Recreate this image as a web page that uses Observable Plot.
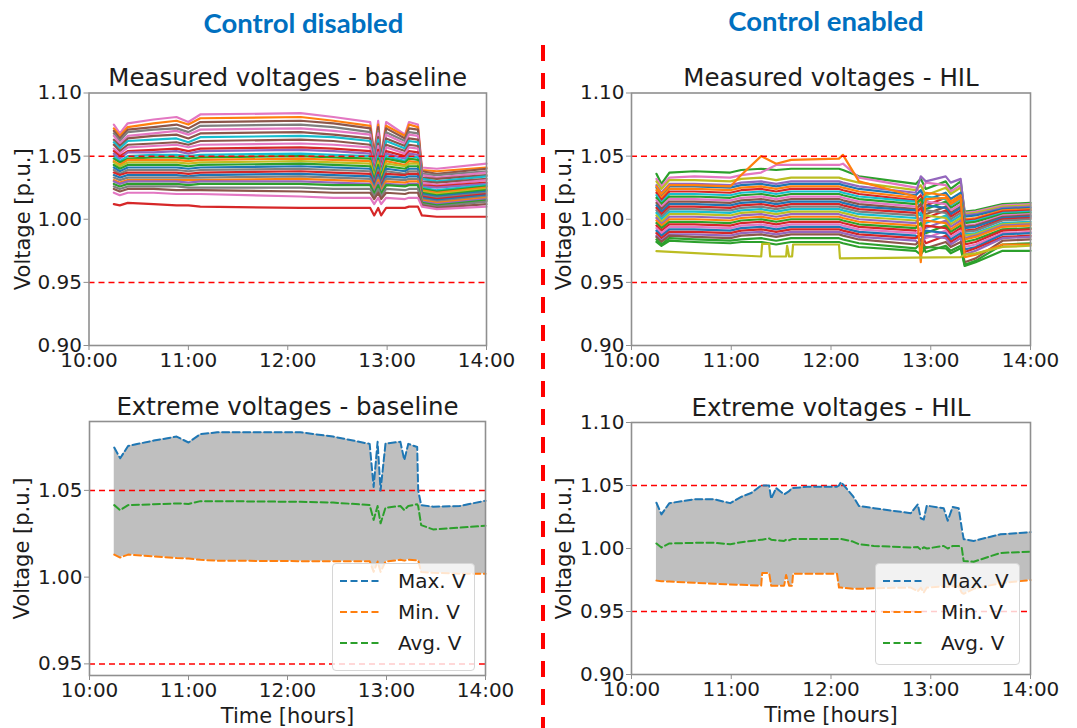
<!DOCTYPE html>
<html>
<head>
<meta charset="utf-8">
<script src="https://cdn.jsdelivr.net/npm/d3@7"></script>
<script src="https://cdn.jsdelivr.net/npm/@observablehq/plot@0.6"></script>
<style>
  html, body { margin: 0; padding: 0; background: #fff; }
  #root { position: relative; width: 1077px; height: 728px; overflow: hidden; font-family: "DejaVu Sans", sans-serif; }
  .panel { position: absolute; }
  .panel svg { display: block; }
  #overlay { position: absolute; left: 0; top: 0; pointer-events: none; }
  .legend { position: absolute; background: rgba(255,255,255,0.8); border: 1px solid #d6d6d6; border-radius: 4px; box-sizing: border-box; }
</style>
</head>
<body>
<div id="root">
  <div class="panel" id="p1" style="left:0;top:50px"></div>
  <div class="panel" id="p2" style="left:540px;top:50px"></div>
  <div class="panel" id="p3" style="left:0;top:380px"></div>
  <div class="panel" id="p4" style="left:540px;top:380px"></div>
</div>
<script>
// ---------- text ----------
const headerLeft = "Control disabled";
const headerRight = "Control enabled";
const titles = ["Measured voltages - baseline", "Measured voltages - HIL", "Extreme voltages - baseline", "Extreme voltages - HIL"];
const yLabel = "Voltage [p.u.]";
const xLabel = "Time [hours]";
const xTicks = [10, 11, 12, 13, 14];
const yTicksWide = [0.90, 0.95, 1.00, 1.05, 1.10];
const yTicksExtBase = [0.95, 1.00, 1.05];
const limits = [0.95, 1.05];
const legendLabels = ["Max. V", "Min. V", "Avg. V"];

// matplotlib tab10 cycle
const tab10 = ["#1f77b4", "#ff7f0e", "#2ca02c", "#d62728", "#9467bd", "#8c564b", "#e377c2", "#7f7f7f", "#bcbd22", "#17becf"];

// ---------- measured voltages, baseline (hours, p.u.) ----------
const baseTimes = [10.25, 10.31, 10.39, 10.65, 10.88, 11.0, 11.12, 12.13, 12.46, 12.83, 12.87, 12.91, 12.94, 12.99, 13.18, 13.22, 13.31, 13.35, 13.5, 14.0];
const baseSeries = [
  [1.075, 1.068, 1.076, 1.079, 1.081, 1.077, 1.083, 1.084, 1.081, 1.077, 1.052, 1.078, 1.050, 1.077, 1.067, 1.077, 1.075, 1.041, 1.040, 1.044],
  [1.072, 1.066, 1.073, 1.076, 1.078, 1.075, 1.080, 1.081, 1.078, 1.074, 1.051, 1.075, 1.049, 1.074, 1.066, 1.075, 1.073, 1.039, 1.038, 1.041],
  [1.070, 1.064, 1.071, 1.073, 1.075, 1.072, 1.077, 1.078, 1.076, 1.072, 1.050, 1.073, 1.048, 1.072, 1.064, 1.072, 1.071, 1.038, 1.036, 1.040],
  [1.068, 1.062, 1.069, 1.071, 1.072, 1.069, 1.074, 1.075, 1.073, 1.069, 1.048, 1.070, 1.046, 1.069, 1.062, 1.069, 1.068, 1.036, 1.035, 1.038],
  [1.066, 1.060, 1.066, 1.068, 1.070, 1.067, 1.071, 1.072, 1.070, 1.067, 1.047, 1.068, 1.045, 1.067, 1.060, 1.067, 1.066, 1.035, 1.033, 1.037],
  [1.063, 1.058, 1.064, 1.066, 1.067, 1.064, 1.068, 1.069, 1.067, 1.064, 1.045, 1.065, 1.043, 1.064, 1.058, 1.064, 1.063, 1.033, 1.032, 1.035],
  [1.061, 1.056, 1.062, 1.063, 1.064, 1.061, 1.065, 1.066, 1.065, 1.062, 1.043, 1.063, 1.042, 1.062, 1.056, 1.062, 1.061, 1.032, 1.030, 1.034],
  [1.059, 1.054, 1.059, 1.060, 1.061, 1.059, 1.062, 1.063, 1.062, 1.059, 1.041, 1.060, 1.040, 1.059, 1.054, 1.059, 1.058, 1.030, 1.029, 1.032],
  [1.056, 1.052, 1.057, 1.058, 1.059, 1.057, 1.059, 1.060, 1.059, 1.057, 1.040, 1.058, 1.038, 1.057, 1.052, 1.057, 1.056, 1.029, 1.027, 1.031],
  [1.054, 1.050, 1.054, 1.055, 1.056, 1.054, 1.056, 1.057, 1.056, 1.054, 1.038, 1.055, 1.037, 1.054, 1.050, 1.054, 1.053, 1.027, 1.026, 1.029],
  [1.052, 1.048, 1.053, 1.053, 1.054, 1.052, 1.054, 1.055, 1.054, 1.052, 1.037, 1.053, 1.036, 1.052, 1.048, 1.052, 1.051, 1.026, 1.025, 1.028],
  [1.050, 1.046, 1.050, 1.051, 1.051, 1.050, 1.051, 1.052, 1.051, 1.050, 1.035, 1.050, 1.034, 1.050, 1.046, 1.050, 1.049, 1.025, 1.023, 1.027],
  [1.048, 1.045, 1.048, 1.049, 1.049, 1.048, 1.049, 1.050, 1.049, 1.048, 1.034, 1.048, 1.033, 1.048, 1.045, 1.048, 1.047, 1.024, 1.022, 1.026],
  [1.046, 1.043, 1.047, 1.047, 1.047, 1.046, 1.047, 1.048, 1.047, 1.046, 1.033, 1.046, 1.032, 1.046, 1.043, 1.046, 1.045, 1.023, 1.021, 1.025],
  [1.045, 1.042, 1.045, 1.045, 1.045, 1.044, 1.045, 1.046, 1.045, 1.044, 1.032, 1.045, 1.031, 1.044, 1.042, 1.044, 1.044, 1.022, 1.020, 1.024],
  [1.043, 1.040, 1.043, 1.043, 1.043, 1.042, 1.043, 1.044, 1.043, 1.042, 1.031, 1.043, 1.030, 1.042, 1.040, 1.042, 1.042, 1.021, 1.019, 1.023],
  [1.041, 1.038, 1.041, 1.041, 1.041, 1.040, 1.041, 1.042, 1.041, 1.040, 1.029, 1.041, 1.028, 1.040, 1.038, 1.040, 1.040, 1.020, 1.018, 1.022],
  [1.039, 1.036, 1.039, 1.039, 1.039, 1.038, 1.039, 1.040, 1.039, 1.038, 1.028, 1.039, 1.027, 1.038, 1.036, 1.038, 1.038, 1.019, 1.017, 1.021],
  [1.037, 1.035, 1.037, 1.037, 1.037, 1.036, 1.037, 1.038, 1.037, 1.036, 1.027, 1.037, 1.026, 1.036, 1.035, 1.036, 1.036, 1.018, 1.016, 1.020],
  [1.035, 1.033, 1.035, 1.035, 1.035, 1.034, 1.035, 1.036, 1.035, 1.034, 1.026, 1.035, 1.025, 1.034, 1.033, 1.034, 1.034, 1.017, 1.015, 1.019],
  [1.033, 1.031, 1.033, 1.033, 1.033, 1.033, 1.033, 1.034, 1.033, 1.032, 1.024, 1.033, 1.024, 1.032, 1.031, 1.032, 1.032, 1.016, 1.014, 1.018],
  [1.031, 1.029, 1.031, 1.031, 1.031, 1.031, 1.031, 1.032, 1.031, 1.030, 1.023, 1.031, 1.022, 1.030, 1.029, 1.030, 1.030, 1.015, 1.013, 1.017],
  [1.030, 1.028, 1.030, 1.030, 1.030, 1.029, 1.030, 1.030, 1.029, 1.028, 1.022, 1.029, 1.021, 1.028, 1.027, 1.028, 1.028, 1.014, 1.012, 1.016],
  [1.028, 1.026, 1.028, 1.028, 1.028, 1.027, 1.028, 1.028, 1.027, 1.027, 1.020, 1.027, 1.020, 1.027, 1.026, 1.027, 1.027, 1.013, 1.011, 1.015],
  [1.026, 1.024, 1.026, 1.026, 1.026, 1.025, 1.025, 1.025, 1.024, 1.024, 1.018, 1.024, 1.018, 1.024, 1.023, 1.024, 1.024, 1.012, 1.010, 1.014],
  [1.024, 1.022, 1.024, 1.024, 1.023, 1.023, 1.023, 1.022, 1.021, 1.021, 1.016, 1.021, 1.016, 1.021, 1.020, 1.021, 1.021, 1.011, 1.009, 1.012],
  [1.021, 1.019, 1.021, 1.021, 1.020, 1.020, 1.020, 1.018, 1.017, 1.017, 1.012, 1.017, 1.012, 1.017, 1.016, 1.017, 1.017, 1.010, 1.008, 1.010],
  [1.012, 1.011, 1.013, 1.012, 1.011, 1.011, 1.010, 1.009, 1.009, 1.009, 1.003, 1.009, 1.003, 1.009, 1.009, 1.010, 1.010, 1.003, 1.002, 1.002]
];
const baseColorIdx = [6, 1, 5, 7, 6, 5, 9, 5, 6, 3, 4, 9, 2, 1, 8, 2, 0, 7, 3, 0, 7, 1, 4, 2, 7, 5, 6, 3];

// ---------- measured voltages, HIL ----------
const hilTimes = [10.25, 10.30, 10.38, 10.63, 10.99, 11.10, 11.30, 11.45, 11.60, 12.08, 12.12, 12.28, 12.85, 12.90, 12.95, 13.15, 13.20, 13.30, 13.34, 13.45, 13.72, 14.0];
const hilSeries = [
  [1.036, 1.028, 1.037, 1.038, 1.037, 1.039, 1.040, 1.039, 1.040, 1.040, 1.039, 1.034, 1.028, 1.032, 1.024, 1.030, 1.024, 1.030, 1.006, 1.007, 1.012, 1.013],
  [1.032, 1.026, 1.033, 1.034, 1.033, 1.035, 1.037, 1.043, 1.043, 1.043, 1.044, 1.033, 1.025, 1.021, 1.029, 1.027, 1.022, 1.027, 1.005, 1.006, 1.011, 1.012],
  [1.030, 1.024, 1.031, 1.031, 1.030, 1.032, 1.033, 1.031, 1.033, 1.033, 1.032, 1.029, 1.023, 1.027, 1.019, 1.025, 1.020, 1.025, 1.004, 1.005, 1.010, 1.011],
  [1.027, 1.021, 1.028, 1.028, 1.027, 1.029, 1.030, 1.028, 1.030, 1.030, 1.029, 1.026, 1.021, 1.034, 1.030, 1.034, 1.029, 1.032, 1.003, 1.004, 1.009, 1.010],
  [1.025, 1.019, 1.026, 1.026, 1.025, 1.027, 1.028, 1.026, 1.028, 1.028, 1.027, 1.024, 1.019, 1.023, 1.015, 1.021, 1.016, 1.021, 1.002, 1.003, 1.008, 1.009],
  [1.023, 1.017, 1.024, 1.024, 1.023, 1.025, 1.026, 1.024, 1.026, 1.026, 1.025, 1.022, 1.017, 1.013, 1.021, 1.019, 1.014, 1.019, 1.000, 1.001, 1.007, 1.008],
  [1.021, 1.015, 1.022, 1.022, 1.021, 1.023, 1.024, 1.022, 1.024, 1.024, 1.023, 1.020, 1.015, 1.019, 1.011, 1.017, 1.012, 1.017, 0.999, 1.000, 1.006, 1.007],
  [1.019, 1.013, 1.020, 1.020, 1.019, 1.021, 1.022, 1.020, 1.022, 1.022, 1.021, 1.018, 1.014, 1.010, 1.018, 1.016, 1.011, 1.016, 0.998, 0.999, 1.005, 1.006],
  [1.017, 1.012, 1.018, 1.018, 1.017, 1.019, 1.020, 1.018, 1.020, 1.020, 1.019, 1.016, 1.012, 1.016, 1.008, 1.014, 1.009, 1.014, 0.997, 0.998, 1.004, 1.005],
  [1.015, 1.010, 1.016, 1.016, 1.015, 1.017, 1.018, 1.016, 1.018, 1.018, 1.017, 1.014, 1.010, 1.006, 1.014, 1.012, 1.007, 1.012, 0.995, 0.996, 1.003, 1.004],
  [1.013, 1.008, 1.014, 1.014, 1.013, 1.015, 1.016, 1.014, 1.016, 1.016, 1.015, 1.012, 1.008, 1.012, 1.004, 1.010, 1.005, 1.010, 0.994, 0.995, 1.002, 1.003],
  [1.011, 1.006, 1.012, 1.012, 1.011, 1.013, 1.014, 1.012, 1.014, 1.014, 1.013, 1.010, 1.007, 1.003, 1.011, 1.009, 1.004, 1.009, 0.993, 0.994, 1.001, 1.002],
  [1.009, 1.004, 1.010, 1.010, 1.009, 1.011, 1.012, 1.010, 1.012, 1.012, 1.011, 1.008, 1.005, 1.009, 1.001, 1.007, 1.002, 1.007, 0.991, 0.992, 1.000, 1.001],
  [1.007, 1.002, 1.008, 1.008, 1.007, 1.009, 1.010, 1.008, 1.010, 1.010, 1.009, 1.006, 1.003, 0.999, 1.007, 1.005, 1.000, 1.005, 0.990, 0.991, 0.999, 1.000],
  [1.005, 1.000, 1.006, 1.006, 1.005, 1.007, 1.008, 1.006, 1.008, 1.008, 1.007, 1.004, 1.001, 1.005, 0.997, 1.003, 0.998, 1.003, 0.988, 0.989, 0.997, 0.998],
  [1.003, 0.998, 1.004, 1.004, 1.003, 1.005, 1.006, 1.004, 1.006, 1.006, 1.005, 1.002, 0.999, 0.995, 1.003, 1.001, 0.996, 1.001, 0.987, 0.988, 0.996, 0.997],
  [1.001, 0.996, 1.002, 1.002, 1.001, 1.003, 1.004, 1.002, 1.004, 1.004, 1.003, 1.000, 0.997, 1.001, 0.993, 0.999, 0.994, 0.999, 0.985, 0.987, 0.995, 0.996],
  [0.999, 0.995, 1.000, 1.000, 0.999, 1.001, 1.002, 1.000, 1.002, 1.002, 1.001, 0.998, 0.995, 0.991, 0.999, 0.997, 0.992, 0.997, 0.984, 0.986, 0.994, 0.995],
  [0.997, 0.993, 0.998, 0.998, 0.997, 0.999, 1.000, 0.998, 1.000, 1.000, 0.999, 0.996, 0.993, 0.997, 0.989, 0.995, 0.990, 0.995, 0.982, 0.984, 0.992, 0.993],
  [0.995, 0.991, 0.996, 0.996, 0.995, 0.997, 0.998, 0.996, 0.998, 0.998, 0.997, 0.994, 0.991, 0.987, 0.995, 0.993, 0.988, 0.993, 0.980, 0.982, 0.991, 0.992],
  [0.993, 0.989, 0.994, 0.994, 0.993, 0.995, 0.996, 0.994, 0.996, 0.996, 0.995, 0.992, 0.989, 0.993, 0.985, 0.991, 0.986, 0.991, 0.978, 0.980, 0.989, 0.990],
  [0.991, 0.987, 0.992, 0.992, 0.991, 0.993, 0.994, 0.992, 0.994, 0.994, 0.993, 0.990, 0.987, 0.983, 0.991, 0.989, 0.984, 0.989, 0.976, 0.978, 0.988, 0.989],
  [0.989, 0.985, 0.990, 0.990, 0.989, 0.991, 0.992, 0.990, 0.992, 0.992, 0.991, 0.988, 0.985, 0.989, 0.981, 0.987, 0.982, 0.987, 0.974, 0.977, 0.986, 0.987],
  [0.987, 0.983, 0.988, 0.988, 0.987, 0.989, 0.990, 0.988, 0.990, 0.990, 0.989, 0.986, 0.983, 0.979, 0.987, 0.985, 0.980, 0.985, 0.972, 0.975, 0.985, 0.986],
  [0.986, 0.982, 0.987, 0.986, 0.985, 0.987, 0.988, 0.986, 0.988, 0.988, 0.987, 0.984, 0.980, 0.984, 0.977, 0.982, 0.978, 0.982, 0.966, 0.969, 0.983, 0.984],
  [0.984, 0.980, 0.985, 0.984, 0.983, 0.984, 0.985, 0.983, 0.985, 0.985, 0.984, 0.981, 0.977, 0.981, 0.974, 0.979, 0.975, 0.979, 0.964, 0.967, 0.980, 0.981],
  [0.982, 0.979, 0.983, 0.982, 0.981, 0.982, 0.982, 0.980, 0.982, 0.982, 0.981, 0.978, 0.975, 0.972, 0.978, 0.977, 0.973, 0.977, 0.963, 0.966, 0.975, 0.975],
  [1.026, 1.020, 1.027, 1.027, 1.026, 1.035, 1.050, 1.044, 1.047, 1.048, 1.051, 1.030, 1.018, 0.966, 1.016, 1.017, 1.012, 1.017, 0.970, 0.972, 0.980, 0.980]
];
const hilColorIdx = [2, 6, 8, 4, 0, 1, 3, 9, 2, 6, 5, 0, 3, 7, 9, 8, 4, 1, 2, 3, 6, 0, 3, 4, 5, 2, 2, 1];
const hilOliveTimes = [10.25, 11.30, 11.31, 11.38, 11.39, 11.55, 11.56, 11.58, 11.61, 11.62, 12.08, 12.09, 13.30, 13.34, 13.45, 13.72, 14.0];
const hilOliveValues = [0.9747, 0.9705, 0.9805, 0.9805, 0.9705, 0.9705, 0.979, 0.9705, 0.9705, 0.980, 0.980, 0.969, 0.970, 0.972, 0.973, 0.978, 0.979];
const hilOliveColorIdx = 8;

// ---------- extreme voltages, baseline ----------
const extBaseTimes = [10.25, 10.31, 10.39, 10.65, 10.88, 11.0, 11.12, 11.29, 12.13, 12.46, 12.83, 12.87, 12.91, 12.94, 12.99, 13.14, 13.18, 13.22, 13.31, 13.32, 13.35, 13.47, 13.74, 14.0];
const extBaseMax = [1.0747, 1.0685, 1.0756, 1.0787, 1.081, 1.0776, 1.0824, 1.0835, 1.0835, 1.081, 1.0768, 1.052, 1.078, 1.050, 1.077, 1.078, 1.0675, 1.0768, 1.075, 1.050, 1.0415, 1.0406, 1.041, 1.044];
const extBaseMin = [1.013, 1.0113, 1.013, 1.012, 1.011, 1.0107, 1.010, 1.0095, 1.0092, 1.0092, 1.0092, 1.003, 1.009, 1.003, 1.009, 1.010, 1.0095, 1.010, 1.0097, 1.0097, 1.003, 1.0025, 1.002, 1.002];
const extBaseAvg = [1.0415, 1.0386, 1.0415, 1.042, 1.0425, 1.0422, 1.0438, 1.0438, 1.0434, 1.043, 1.0415, 1.033, 1.041, 1.031, 1.040, 1.041, 1.0386, 1.041, 1.042, 1.041, 1.030, 1.0275, 1.0285, 1.0296];
const extBaseDomain = [0.9433, 1.0897];

// ---------- extreme voltages, HIL ----------
const extHilTimes = [10.25, 10.30, 10.38, 10.63, 10.83, 10.99, 11.10, 11.20, 11.30, 11.31, 11.38, 11.40, 11.45, 11.53, 11.55, 11.58, 11.61, 11.62, 11.76, 12.06, 12.08, 12.10, 12.22, 12.28, 12.43, 12.80, 12.87, 12.90, 12.93, 12.96, 13.13, 13.17, 13.22, 13.28, 13.31, 13.33, 13.43, 13.70, 14.0];
const extHilMax = [1.0363, 1.0271, 1.036, 1.039, 1.039, 1.036, 1.041, 1.044, 1.050, 1.050, 1.050, 1.0395, 1.048, 1.043, 1.044, 1.0455, 1.048, 1.048, 1.049, 1.049, 1.050, 1.0527, 1.0416, 1.0337, 1.032, 1.028, 1.035, 1.024, 1.023, 1.034, 1.032, 1.022, 1.033, 1.032, 1.0166, 1.0074, 1.006, 1.0113, 1.013];
const extHilMin = [0.9745, 0.9740, 0.9738, 0.9728, 0.9720, 0.9715, 0.9712, 0.9708, 0.9705, 0.9805, 0.9805, 0.9705, 0.9705, 0.9705, 0.9790, 0.9705, 0.9705, 0.980, 0.980, 0.980, 0.969, 0.969, 0.968, 0.968, 0.9685, 0.969, 0.966, 0.969, 0.965, 0.969, 0.970, 0.9695, 0.970, 0.970, 0.965, 0.964, 0.968, 0.9725, 0.975];
const extHilAvg = [1.004, 1.0008, 1.004, 1.0045, 1.0045, 1.0034, 1.005, 1.006, 1.007, 1.007, 1.008, 1.007, 1.0065, 1.006, 1.007, 1.0065, 1.0075, 1.0076, 1.0076, 1.0076, 1.0076, 1.0076, 1.0055, 1.0034, 1.002, 1.0008, 1.0012, 0.999, 1.001, 1.000, 1.002, 1.000, 1.002, 1.002, 1.001, 0.990, 0.9895, 0.9965, 0.9974];

// ---------- build ----------
const flatten = (times, rows, colorIdx) =>
  rows.flatMap((row, s) => row.map((v, j) => ({t: times[j], v, s, c: tab10[colorIdx[s]]})));

const baseData = flatten(baseTimes, baseSeries, baseColorIdx);
const hilData = flatten(hilTimes, hilSeries, hilColorIdx)
  .concat(hilOliveTimes.map((t, j) => ({t, v: hilOliveValues[j], s: 999, c: tab10[hilOliveColorIdx]})));
const extBase = extBaseTimes.map((t, i) => ({t, max: extBaseMax[i], min: extBaseMin[i], avg: extBaseAvg[i]}));
const extHil = extHilTimes.map((t, i) => ({t, max: extHilMax[i], min: extHilMin[i], avg: extHilAvg[i]}));

const FRAME = "#8f8f8f";
const TXT = "#1c1c1c";
const DASH = "7,3.5";

function panel(opts) {
  const marks = [
    ...opts.marks,
    Plot.frame({stroke: FRAME, strokeWidth: 1.6}),
    Plot.axisX({ticks: xTicks, tickFormat: d => `${d}:00`, tickSize: 5, tickPadding: 2, label: null, fontSize: 20, stroke: FRAME}),
    Plot.axisY({ticks: opts.yticks, tickFormat: d3.format(".2f"), tickSize: 5, tickPadding: 2, label: null, fontSize: 20, stroke: FRAME}),
    Plot.text([opts.title], {frameAnchor: "top", dy: -7, lineAnchor: "bottom", textAnchor: "middle", fontSize: 24.5, fill: TXT}),
    Plot.text([yLabel], {frameAnchor: "left", dx: opts.ylabDx, rotate: -90, textAnchor: "middle", lineAnchor: "middle", fontSize: 21, fill: TXT})
  ];
  if (opts.xlabel) marks.push(Plot.text([opts.xlabel], {frameAnchor: "bottom", dy: 41, textAnchor: "middle", lineAnchor: "middle", fontSize: 21, fill: TXT}));
  return Plot.plot({
    width: opts.width, height: opts.height,
    marginLeft: opts.ml, marginRight: opts.mr, marginTop: opts.mt, marginBottom: opts.mb,
    x: {domain: [10, 14]},
    y: {domain: opts.ydomain},
    color: {type: "identity"},
    style: {fontFamily: "'DejaVu Sans', sans-serif", fontSize: "20px", color: TXT, background: "transparent", overflow: "visible"},
    marks
  });
}

const limitRule = () => Plot.ruleY(limits, {stroke: "#ff0000", strokeWidth: 1.5, strokeDasharray: "6,4"});

document.getElementById("p1").appendChild(panel({
  width: 540, height: 330, ml: 88.5, mr: 54, mt: 42.5, mb: 35, ylabDx: -66,
  ydomain: [0.9, 1.1], yticks: yTicksWide, title: titles[0],
  marks: [
    Plot.line(baseData, {x: "t", y: "v", z: "s", stroke: "c", strokeWidth: 2.2}),
    limitRule()
  ]
}));

document.getElementById("p2").appendChild(panel({
  width: 537, height: 330, ml: 91, mr: 47, mt: 42.5, mb: 35, ylabDx: -67.5,
  ydomain: [0.9, 1.1], yticks: yTicksWide, title: titles[1],
  marks: [
    Plot.line(hilData, {x: "t", y: "v", z: "s", stroke: "c", strokeWidth: 2.2}),
    limitRule()
  ]
}));

function extMarks(data) {
  return [
    Plot.areaY(data, {x: "t", y1: "min", y2: "max", fill: "#bfbfbf"}),
    limitRule(),
    Plot.line(data, {x: "t", y: "max", stroke: tab10[0], strokeWidth: 2, strokeDasharray: DASH}),
    Plot.line(data, {x: "t", y: "min", stroke: tab10[1], strokeWidth: 2, strokeDasharray: DASH}),
    Plot.line(data, {x: "t", y: "avg", stroke: tab10[2], strokeWidth: 2, strokeDasharray: DASH})
  ];
}

document.getElementById("p3").appendChild(panel({
  width: 540, height: 348, ml: 89, mr: 55, mt: 41, mb: 53, ylabDx: -67,
  ydomain: extBaseDomain, yticks: yTicksExtBase, title: titles[2], xlabel: xLabel,
  marks: extMarks(extBase)
}));

document.getElementById("p4").appendChild(panel({
  width: 537, height: 348, ml: 91, mr: 47, mt: 42, mb: 54, ylabDx: -67.5,
  ydomain: [0.9, 1.1], yticks: yTicksWide, title: titles[3], xlabel: xLabel,
  marks: extMarks(extHil)
}));

// ---------- legends (HTML overlay) ----------
const root = document.getElementById("root");
const legendColors = [tab10[0], tab10[1], tab10[2]];
function addLegend(left, top, w, h) {
  const div = document.createElement("div");
  div.className = "legend";
  Object.assign(div.style, {left: left + "px", top: top + "px", width: w + "px", height: h + "px"});
  const ns = "http://www.w3.org/2000/svg";
  const svg = document.createElementNS(ns, "svg");
  svg.setAttribute("width", w); svg.setAttribute("height", h);
  svg.style.position = "absolute"; svg.style.left = "-1px"; svg.style.top = "-1px";
  legendLabels.forEach((lab, i) => {
    const y = 18 + i * 31;
    const ln = document.createElementNS(ns, "line");
    ln.setAttribute("x1", 8); ln.setAttribute("x2", 50); ln.setAttribute("y1", y); ln.setAttribute("y2", y);
    ln.setAttribute("stroke", legendColors[i]); ln.setAttribute("stroke-width", 2); ln.setAttribute("stroke-dasharray", DASH);
    svg.appendChild(ln);
    const tx = document.createElementNS(ns, "text");
    tx.setAttribute("x", 66); tx.setAttribute("y", y); tx.setAttribute("dy", "0.36em");
    tx.setAttribute("font-family", "DejaVu Sans"); tx.setAttribute("font-size", 20); tx.setAttribute("fill", TXT);
    tx.textContent = lab;
    svg.appendChild(tx);
  });
  div.appendChild(svg);
  root.appendChild(div);
}
addLegend(332, 563, 143, 108);
addLegend(875, 563, 145, 102);

// ---------- headers and separator ----------
const ov = document.createElementNS("http://www.w3.org/2000/svg", "svg");
ov.setAttribute("id", "overlay"); ov.setAttribute("width", 1077); ov.setAttribute("height", 728);
ov.innerHTML = `
  <line x1="543" x2="543" y1="45" y2="728" stroke="#ff0000" stroke-width="4" stroke-dasharray="16,12"/>
  <text x="303.5" y="33" text-anchor="middle" font-family="Lato, sans-serif" font-weight="700" font-size="27.5" fill="#0070c0">${headerLeft}</text>
  <text x="826" y="30.5" text-anchor="middle" font-family="Lato, sans-serif" font-weight="700" font-size="27.5" fill="#0070c0">${headerRight}</text>`;
root.appendChild(ov);
</script>
</body>
</html>
